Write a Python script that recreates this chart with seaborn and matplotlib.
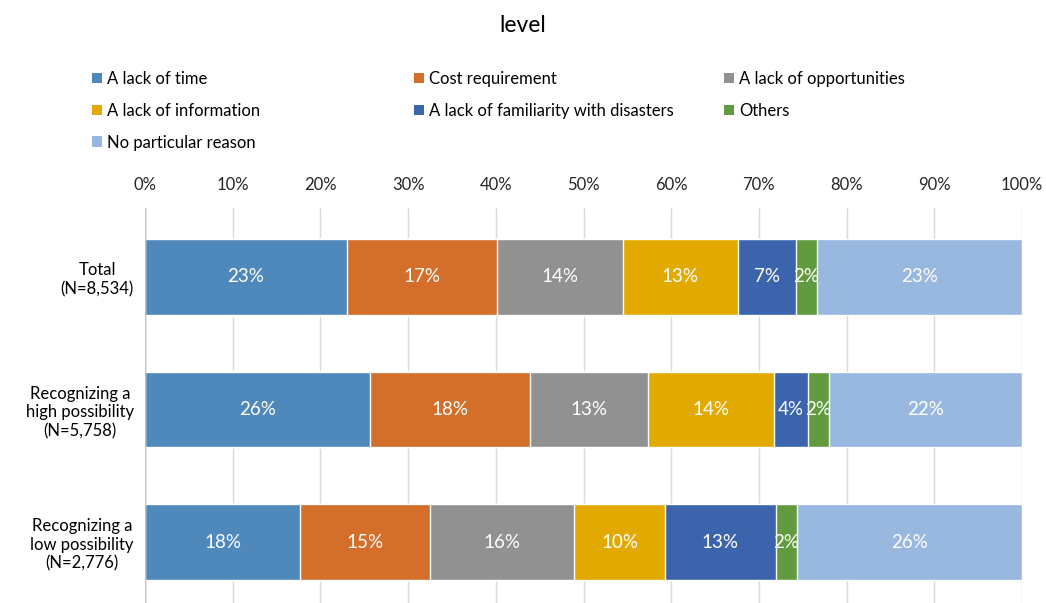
import numpy as np
import pandas as pd
import matplotlib
matplotlib.use("Agg")
import matplotlib.pyplot as plt
from matplotlib.patches import Patch
import seaborn as sns

categories = ["Total\n(N=8,534)", "Recognizing a\nhigh possibility\n(N=5,758)", "Recognizing a\nlow possibility\n(N=2,776)"]
series_names = ["A lack of time", "Cost requirement", "A lack of opportunities",
                "A lack of information", "A lack of familiarity with disasters", "Others",
                "No particular reason"]
lack_of_time = [23.0, 25.7, 17.7]
cost_requirement = [17.1, 18.2, 14.8]
lack_of_opportunities = [14.4, 13.4, 16.4]
lack_of_information = [13.1, 14.4, 10.4]
lack_of_familiarity = [6.6, 3.9, 12.6]
others = [2.4, 2.4, 2.4]
no_particular_reason = [23.4, 22.0, 25.7]
x_ticks = [0, 10, 20, 30, 40, 50, 60, 70, 80, 90, 100]
x_tick_labels = ["0%", "10%", "20%", "30%", "40%", "50%", "60%", "70%", "80%", "90%", "100%"]

colors = ["#4F88BB", "#D36E2B", "#919191", "#E2AA00", "#3C64AC", "#629B3F", "#98B8DF"]

series_values = [lack_of_time, cost_requirement, lack_of_opportunities, lack_of_information,
                 lack_of_familiarity, others, no_particular_reason]

sns.set_theme(style="white")
plt.rcParams['font.family'] = ['Lato', 'DejaVu Sans']

fig = plt.figure(figsize=(10.46, 6.03), dpi=100)
ax = fig.add_axes([145/1046, 0.0, (1022-145)/1046, (603-208)/603])

vals = np.array(series_values)
cum = np.cumsum(vals, axis=0)

# draw cumulative bars from the last (longest) to the first so they stack visually
for i in range(len(series_names) - 1, -1, -1):
    df = pd.DataFrame({"cat": categories, "val": cum[i]})
    sns.barplot(data=df, x="val", y="cat", orient="h", color=colors[i], saturation=1,
                width=0.57, errorbar=None, ax=ax, zorder=3)

# value labels
for i in range(len(series_names)):
    for j in range(len(categories)):
        center = cum[i][j] - vals[i][j] / 2
        ax.text(center, j, f"{vals[i][j]:.0f}%", ha="center", va="center",
                color="white", fontsize=13.5, zorder=5)

ax.set_xlim(0, 100)
ax.set_ylim(2.46, -0.52)
ax.set_xlabel("")
ax.set_ylabel("")
ax.xaxis.tick_top()
ax.set_xticks(x_ticks)
ax.set_xticklabels(x_tick_labels, fontsize=12, color="#262626")
ax.tick_params(axis="x", length=0, pad=11)
ax.tick_params(axis="y", length=0, pad=8)
for lab in ax.get_yticklabels():
    lab.set_multialignment("center")
    lab.set_fontsize(12)
    lab.set_color("#000000")
ax.grid(axis="x", color="#D9D9D9", linewidth=1, zorder=0)
for s in ax.spines.values():
    s.set_visible(False)
ax.axvline(0, color="#BFBFBF", linewidth=1, zorder=4)

fig.text(0.5, 1 - 26/603, "level", ha="center", va="center", fontsize=16.5, color="#000000")

# legend in three columns, row-wise order
col_x = [92/1046, 414/1046, 724/1046]
col_items = [[0, 3, 6], [1, 4], [2, 5]]
for cx, items in zip(col_x, col_items):
    handles = [Patch(facecolor=colors[k], edgecolor="none") for k in items]
    labels = [series_names[k] for k in items]
    leg = fig.legend(handles, labels, loc="upper left", bbox_to_anchor=(cx, 1 - 71/603),
                     frameon=False, fontsize=12, handlelength=0.6, handleheight=0.6,
                     handletextpad=0.3, labelspacing=0.95, borderaxespad=0, borderpad=0)
    for t in leg.get_texts():
        t.set_color("#000000")

fig.savefig("out.png", dpi=100)
